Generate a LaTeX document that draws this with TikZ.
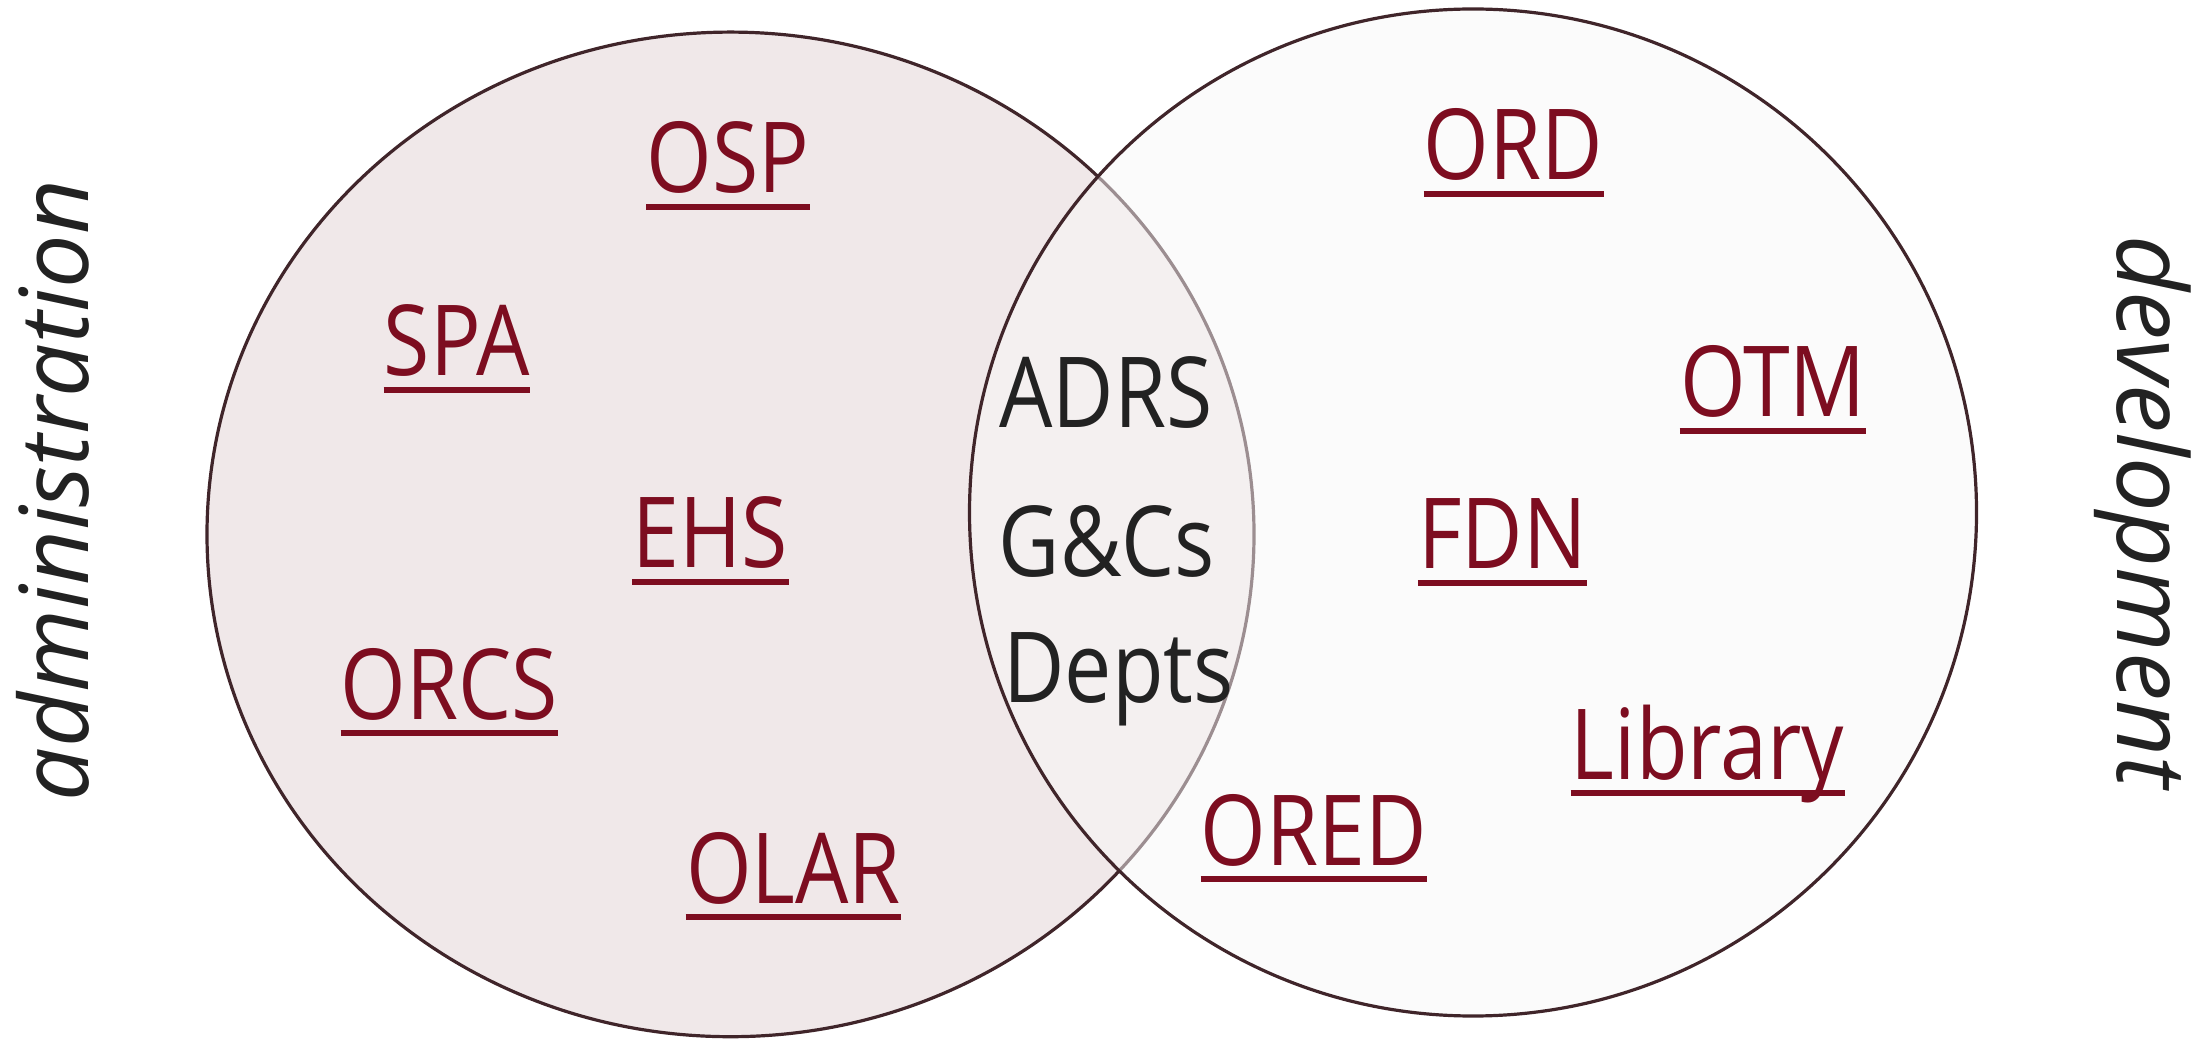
\documentclass[tikz,border=0pt]{standalone}
\usepackage{fontspec}
\setmainfont{Open Sans}
\newfontfamily\lblfont[FakeStretch=0.86]{Open Sans}
\definecolor{leftfill}{HTML}{F0E8E9}
\definecolor{rightfill}{HTML}{F8F8F8}
\definecolor{ringcol}{HTML}{40252A}
\definecolor{lblred}{HTML}{7D0D20}
\definecolor{ink}{HTML}{222222}
\tikzset{
  ring/.style={draw=ringcol, line width=1.6pt},
  lbl/.style={inner sep=0pt, anchor=base, text=lblred, font=\lblfont\fontsize{49}{49}\selectfont},
  mid/.style={inner sep=0pt, anchor=base, text=ink, font=\lblfont\fontsize{49}{49}\selectfont},
  side/.style={inner sep=0pt, anchor=base, text=ink, font=\itshape},
  uline/.style={draw=lblred, line width=3.25pt}
}
\begin{document}
\begin{tikzpicture}[x=0.5pt,y=0.5pt]
\useasboundingbox (0,0) rectangle (2203,1039);
% circles
\fill[leftfill] (730.5,504.6) ellipse [x radius=523.5, y radius=502.3];
\draw[ring] (730.5,504.6) ellipse [x radius=523.5, y radius=502.3];
\fill[rightfill, fill opacity=0.5] (1473,526.5) circle [radius=503.5];
\draw[ring] (1473,526.5) circle [radius=503.5];
% side labels
\node[side, rotate=90, font=\itshape\fontsize{47.5}{47.5}\selectfont] (adm) at (88,548.5) {administration};
\node[side, rotate=-90, font=\itshape\fontsize{48.5}{48.5}\selectfont] (dev) at (2117,527) {development};
% red labels
\node[lbl] (osp) at (728,846) {OSP};
\node[lbl] (spa) at (457,663) {SPA};
\node[lbl] (ehs) at (710.5,471) {EHS};
\node[lbl] (orcs) at (449.5,320) {ORCS};
\node[lbl] (olar) at (793.5,136) {OLAR};
\node[lbl] (ord) at (1513.5,859) {ORD};
\node[lbl] (otm) at (1773,622) {OTM};
\node[lbl] (fdn) at (1502.5,470) {FDN};
\node[lbl] (lib) at (1707.5,260) {Library};
\node[lbl] (ored) at (1314,174) {ORED};
% centre
\node[mid] (adrs) at (1106,611) {ADRS};
\node[mid] (gcs) at (1107,462) {G\&Cs};
\node[mid] (depts) at (1118.5,336) {Depts};
% underlines
\foreach \n in {osp,spa,ehs,orcs,olar,ord,otm,fdn,lib,ored}
  \draw[uline] ([yshift=-7pt]\n.base west) -- ([yshift=-7pt]\n.base east);
\end{tikzpicture}
\end{document}
